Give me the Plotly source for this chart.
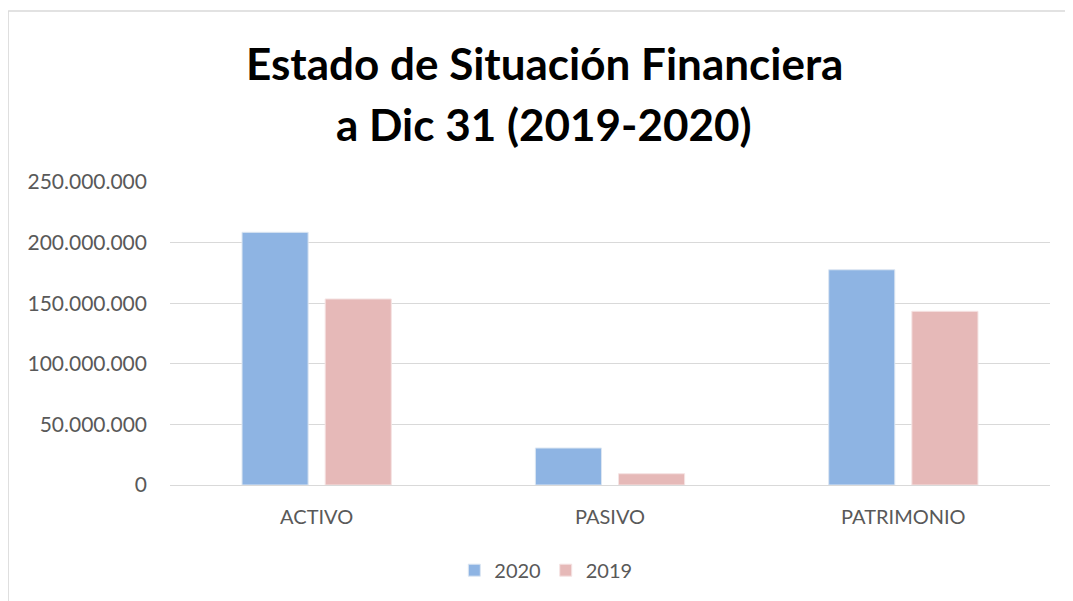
import plotly.graph_objects as go

categorias = ["ACTIVO", "PASIVO", "PATRIMONIO"]
valores_2020 = [208500000, 30500000, 177600000]
valores_2019 = [153500000, 9300000, 143300000]
y_ticks = [0, 50000000, 100000000, 150000000, 200000000, 250000000]
y_tick_labels = ["0", "50.000.000", "100.000.000", "150.000.000", "200.000.000", "250.000.000"]

fuente = "Lato, Open Sans, sans-serif"
gris_texto = "#595959"
gris_linea = "#D9D9D9"

fig = go.Figure()
fig.add_trace(go.Bar(x=categorias, y=valores_2020, name="2020",
                     marker=dict(color="#8EB4E3", line=dict(color="#DCE6F2", width=1))))
fig.add_trace(go.Bar(x=categorias, y=valores_2019, name="2019",
                     marker=dict(color="#E6B9B8", line=dict(color="#F5E3E3", width=1))))

# titulo en dos lineas (separadas para controlar el interlineado)
fig.add_annotation(text="<b>Estado de Situación Financiera</b>", x=0.425, y=1.393,
                   xref="paper", yref="paper", showarrow=False,
                   xanchor="center", yanchor="middle",
                   font=dict(family=fuente, size=44, color="black"))
fig.add_annotation(text="<b>a Dic 31 (2019-2020)</b>", x=0.425, y=1.191,
                   xref="paper", yref="paper", showarrow=False,
                   xanchor="center", yanchor="middle",
                   font=dict(family=fuente, size=44, color="black"))

# marco del grafico (solo se ven borde izquierdo y superior)
fig.add_shape(type="line", xref="paper", yref="paper", x0=-0.184, x1=1.1, y0=1.564, y1=1.564,
              line=dict(color=gris_linea, width=1.5))
fig.add_shape(type="line", xref="paper", yref="paper", x0=-0.184, x1=-0.184, y0=1.564, y1=-0.5,
              line=dict(color=gris_linea, width=1.5))

# la pagina tiene 8px de margen en el body, por eso 1065x593
fig.update_layout(
    width=1065, height=593,
    margin=dict(l=162, r=23, t=174, b=116),
    paper_bgcolor="white", plot_bgcolor="white",
    barmode="group", bargap=0.433, bargroupgap=0.205,
    font=dict(family=fuente, size=20, color=gris_texto),
    showlegend=True,
    legend=dict(orientation="h", xref="container", yref="container",
                x=0.505, y=0.052, xanchor="center", yanchor="middle",
                font=dict(size=20, color=gris_texto), bgcolor="rgba(0,0,0,0)"),
)
fig.update_yaxes(range=[0, 250000000], tickvals=y_ticks, ticktext=y_tick_labels,
                 showgrid=True, gridcolor=gris_linea, gridwidth=1.3,
                 zeroline=False, showline=False, ticks="", ticklabelstandoff=22,
                 tickfont=dict(size=21, color=gris_texto))
fig.update_xaxes(showline=True, linecolor=gris_linea, linewidth=1.3, ticks="",
                 ticklabelstandoff=14, tickfont=dict(size=20, color=gris_texto))

fig.write_html("out.html")
